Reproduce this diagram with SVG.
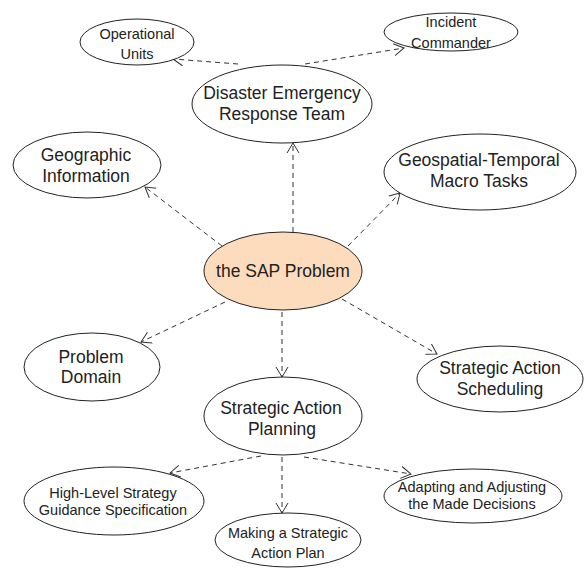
<svg xmlns="http://www.w3.org/2000/svg" width="584" height="568" viewBox="0 0 584 568">
<style>
.n ellipse{fill:#fff;stroke:#222;stroke-width:1}
.n.main ellipse{fill:#fddcbe}
.n text{font-family:"Liberation Sans",Arial,sans-serif;fill:#222;text-anchor:middle;dominant-baseline:central}
.L text{font-size:17.5px}
.S text{font-size:14.5px}
.c path{fill:none;stroke:#333;stroke-width:1;stroke-dasharray:5 4;marker-end:url(#ah)}
</style>
<defs>
<marker id="ah" viewBox="0 -7 12 14" refX="10" refY="0" markerUnits="userSpaceOnUse" markerWidth="12" markerHeight="14" orient="auto">
<path d="M0,-6 L10,0 L0,6" fill="none" stroke="#333" stroke-width="1"/>
</marker>
</defs>
<rect width="584" height="568" fill="#fff"/>
<g class="c" id="connectors">
<path d="M238,64 L173,59"/>
<path d="M305,64 L404,48"/>
<path d="M293,232 L293,143"/>
<path d="M222,246 L145,187"/>
<path d="M348,246 L400,193"/>
<path d="M225,302 L141,342"/>
<path d="M282,312 L282,377"/>
<path d="M342,299 L437,354"/>
<path d="M261,456 L170,473"/>
<path d="M282,457 L282,513"/>
<path d="M304,457 L411,474"/>
</g>
<g class="n S" id="operational-units"><ellipse cx="137" cy="42" rx="57" ry="23"/><text x="137" y="34">Operational</text><text x="137" y="54">Units</text></g>
<g class="n S" id="incident-commander"><ellipse cx="451" cy="32" rx="67" ry="19"/><text x="451" y="22">Incident</text><text x="451" y="43">Commander</text></g>
<g class="n L" id="dert"><ellipse cx="282" cy="104" rx="90" ry="39"/><text x="282" y="93">Disaster Emergency</text><text x="282" y="114">Response Team</text></g>
<g class="n L" id="geographic-information"><ellipse cx="87" cy="165" rx="74" ry="33"/><text x="86" y="155">Geographic</text><text x="86" y="176">Information</text></g>
<g class="n L" id="geospatial-temporal"><ellipse cx="480" cy="172" rx="96" ry="38"/><text x="479" y="160">Geospatial-Temporal</text><text x="479" y="181">Macro Tasks</text></g>
<g class="n L main" id="sap-problem"><ellipse cx="283" cy="271" rx="79" ry="39"/><text x="283" y="271">the SAP Problem</text></g>
<g class="n L" id="problem-domain"><ellipse cx="92" cy="367" rx="68" ry="34"/><text x="91" y="357">Problem</text><text x="91" y="377">Domain</text></g>
<g class="n L" id="strategic-action-scheduling"><ellipse cx="500" cy="379" rx="83" ry="33"/><text x="500" y="368">Strategic Action</text><text x="500" y="389">Scheduling</text></g>
<g class="n L" id="strategic-action-planning"><ellipse cx="283" cy="416" rx="79" ry="39"/><text x="281" y="408">Strategic Action</text><text x="282" y="429">Planning</text></g>
<g class="n S" id="high-level-strategy"><ellipse cx="114" cy="501" rx="90" ry="34"/><text x="113" y="493">High-Level Strategy</text><text x="113" y="510">Guidance Specification</text></g>
<g class="n S" id="making-plan"><ellipse cx="288" cy="540" rx="73" ry="27"/><text x="288" y="533">Making a Strategic</text><text x="288" y="553">Action Plan</text></g>
<g class="n S" id="adapting"><ellipse cx="473" cy="496" rx="89" ry="27"/><text x="472" y="487">Adapting and Adjusting</text><text x="472" y="504">the Made Decisions</text></g>
</svg>
